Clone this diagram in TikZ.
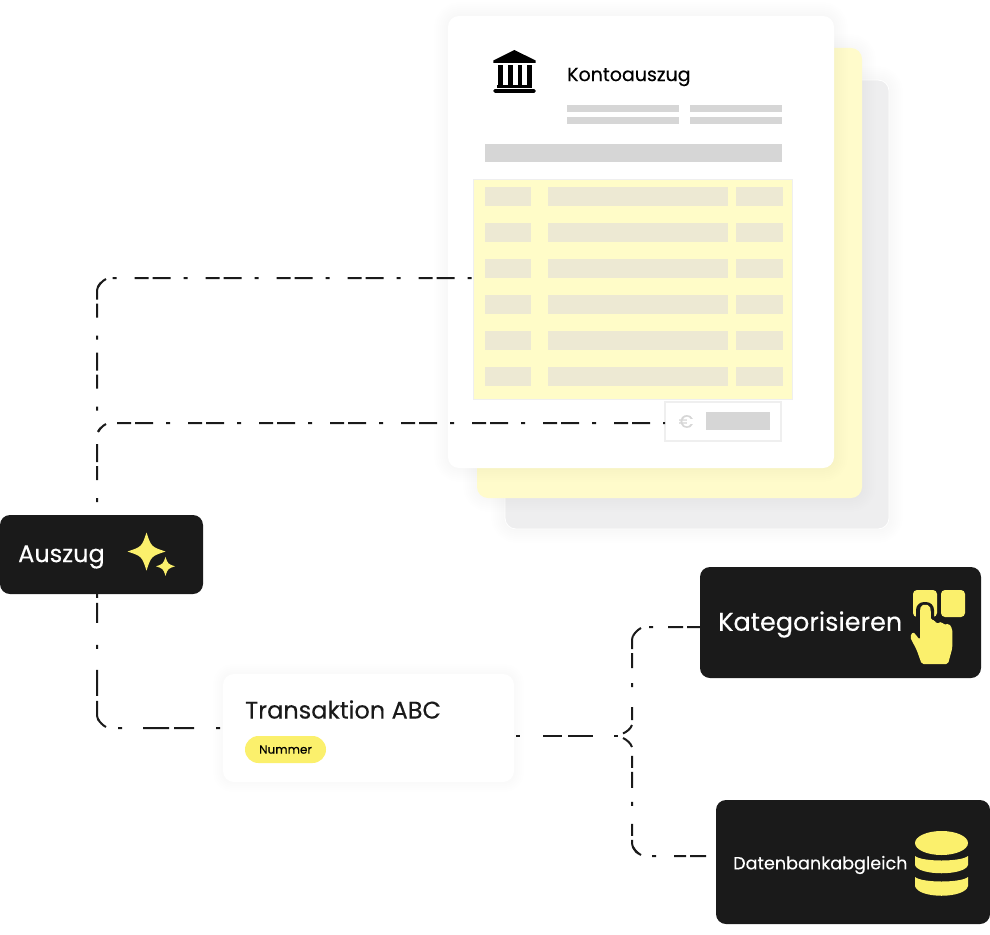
\documentclass[tikz,border=0pt]{standalone}
\usepackage{fontspec}
\setmainfont{Poppins}[FakeBold=0.25]
\usetikzlibrary{positioning}
\definecolor{darkbox}{HTML}{1A1A1A}
\definecolor{iconyellow}{HTML}{FBF06C}
\definecolor{pagegray}{HTML}{EEEEEF}
\definecolor{pageyellow}{HTML}{FFFBCB}
\definecolor{tableyellow}{HTML}{FFFCC8}
\definecolor{cellgray}{HTML}{EDE9D3}
\definecolor{bargray}{HTML}{D6D6D6}
\definecolor{hairline}{HTML}{EFEFEF}
\tikzset{
  page/.style={rounded corners=11pt, inner sep=0pt, outer sep=0pt},
  blackbox/.style={fill=darkbox, rounded corners=10pt, inner sep=0pt, outer sep=0pt},
  flowline/.style={line width=2pt, darkbox, rounded corners=14pt,
    dash pattern=on 18pt off 4pt on 14pt off 18pt on 4pt off 13pt},
  flowwide/.style={line width=2pt, darkbox, rounded corners=14pt,
    dash pattern=on 20pt off 5pt on 26pt off 21pt on 4pt off 22pt},
  cornerdash/.style={line width=2pt, darkbox},
  blacktext/.style={text=white, inner sep=0pt, anchor=west},
  greybar/.style={fill=bargray},
  cell/.style={fill=cellgray},
  sparkle/.pic={\fill[iconyellow] (0,-1) .. controls (.25,-.25) .. (1,0) .. controls (.25,.25) .. (0,1)
    .. controls (-.25,.25) .. (-1,0) .. controls (-.25,-.25) .. cycle;}
}
\newcommand{\softshadow}[4]{%
  \foreach \w in {4,8,...,28}
    \draw[black, opacity=0.004, line width=\w pt, rounded corners=12pt] (#1,#2) rectangle (#3,#4);
}
\begin{document}
\begin{tikzpicture}[x=1pt, y=-1pt]
\useasboundingbox (0,0) rectangle (990,934);
\fill[white] (0,0) rectangle (990,934);

\softshadow{505}{80}{889}{529}
\node[page, fill=pagegray, draw=white, line width=.8pt, minimum width=384pt, minimum height=449pt] (backpage) at (697,304.5) {};
\softshadow{477}{48}{862}{498}
\node[page, fill=pageyellow, minimum width=385pt, minimum height=450pt] (yellowpage) at (669.5,273) {};
\softshadow{448}{16}{834}{468}
\node[page, fill=white, minimum width=386pt, minimum height=452pt] (whitepage) at (641,242) {};

\fill (514.3,50) -- (535.7,60.5) -- (535.7,63) -- (493.3,63) -- (493.3,60.5) -- cycle;
\foreach \x in {497.8,508,517.5,526.8}
  \fill (\x,65) rectangle ++(4.8,21);
\fill (497,85) rectangle (532,87.5);
\fill[rounded corners=1.5pt] (493.3,89) rectangle (535.7,92.8);

\node[inner sep=0pt, anchor=west, font=\fontsize{19}{19}\selectfont] (title) at (567,77) {Kontoauszug};

\fill[greybar] (567,105) rectangle (679,112);
\fill[greybar] (690,105) rectangle (782,112);
\fill[greybar] (567,117) rectangle (679,124);
\fill[greybar] (690,117) rectangle (782,124);
\fill[greybar] (485,144) rectangle (782,162);

\node[fill=tableyellow, draw=hairline, line width=1.5pt, inner sep=0pt, outer sep=0pt, minimum width=319pt, minimum height=220pt] (table) at (633,289.5) {};
\foreach \y in {187,223,259,295,331,367}{
  \fill[cell] (485,\y) rectangle ++(46,19);
  \fill[cell] (548,\y) rectangle ++(180,19);
  \fill[cell] (736,\y) rectangle ++(47,19);
}

\node[draw=hairline, line width=1.2pt, fill=white, inner sep=0pt, outer sep=0pt, minimum width=116pt, minimum height=39pt] (sumbox) at (723,421.5) {};
\node[text=bargray, inner sep=0pt, font=\fontsize{18}{18}\selectfont] (euro) at (686,421.5) {€};
\fill[greybar] (706,412) rectangle (770,430);

\coordinate (spine) at (97,500);
\coordinate (spinetop) at (97,415);
\coordinate (tablein) at (table.west |- 0,278);
\coordinate (sumin) at (sumbox.west |- 0,423);
\coordinate (transin) at (222,728);
\coordinate (transout) at (514,736);
\coordinate (fork) at (622,736);
\coordinate (katin) at (700,627);
\coordinate (datin) at (716,856);

\node[blackbox, minimum width=203pt, minimum height=79pt] (auszug) at (101.5,554.5) {};

\draw[flowline, dash phase=52pt] (tablein) -| (spinetop);
\draw[flowline, dash phase=56pt] (sumin) -| (spine |- auszug.north);
\draw[flowwide, dash phase=70pt] (transin) -| (spine |- auszug.south);

\node[blacktext, font=\fontsize{24}{24}\selectfont] (auszuglabel) at (18,557) {Auszug};
\pic (sparklebig) [scale=19] at (146.5,551.5) {sparkle};
\pic (sparklesmall) [scale=9.5] at (165.5,566.3) {sparkle};

\foreach \w in {4,8,...,20}
  \draw[black, opacity=0.003, line width=\w pt, rounded corners=10pt] (223,674) rectangle (514,782);
\node[page, fill=white, minimum width=291pt, minimum height=108pt] (transaktion) at (368.5,728) {};
\node[inner sep=0pt, anchor=west, text=darkbox, font=\fontsize{24}{24}\selectfont] (translabel) at (245,709.5) {Transaktion ABC};
\node[fill=iconyellow, rounded corners=13.5pt, inner sep=0pt, minimum width=81pt, minimum height=27pt, font=\fontsize{12}{12}\selectfont] (nummer) at (285.5,749.5) {Nummer};

\draw[flowwide, dash pattern=on 19pt off 6pt on 25pt off 21pt on 4pt off 23pt, dash phase=69pt] (transout) -- (fork);
\draw[flowline, dash pattern=on 13pt off 4pt on 15pt off 15pt on 4pt off 20pt] (katin) -| (632,724);
\draw[flowline, dash pattern=on 16pt off 4pt on 12pt off 18pt on 4pt off 14pt, dash phase=58pt] (datin) -| (632,748);
\draw[cornerdash] (623,733.5) .. controls (627,731.5) and (630.5,729) .. (632,725);
\draw[cornerdash] (623,738) .. controls (627,740) and (630.5,743) .. (632,747);

\foreach \c/\s in {{97,278}/1,{97,423}/1,{632,627}/1,{97,728}/-1,{632,856}/-1}
  \draw[cornerdash, shift={(\c)}, yscale=\s] (1,9) .. controls (2.5,6) and (6,2.5) .. (9,1);

\node[blackbox, minimum width=281pt, minimum height=111pt] (kategorisieren) at (840.5,622.5) {};
\node[blacktext, font=\fontsize{25.5}{25.5}\selectfont] (katlabel) at (718,624.5) {Kategorisieren};
\fill[iconyellow, rounded corners=4pt] (913,590) rectangle (937,617);
\fill[iconyellow, rounded corners=4pt] (941,590) rectangle (965,617);
\fill[darkbox, rounded corners=8pt] (916,602) rectangle (934,632);
\fill[iconyellow, rounded corners=1.8pt] (920,640) -- (920,610) -- (921,605.5) -- (925,604.5) -- (929.5,605.5) -- (930.8,610) -- (930.8,620)
  -- (935,620) -- (936,624) -- (942,621.5) -- (943.5,625) -- (949,623.5) -- (952.3,629) -- (952.3,648)
  -- (948,664) -- (921.7,664) -- (916.7,650) -- (910,637) -- (913,631.5) -- cycle;

\node[blackbox, minimum width=274pt, minimum height=124pt] (datenbank) at (853,862) {};
\node[blacktext, font=\fontsize{17.6}{17.6}\selectfont] (datlabel) at (733,865) {Datenbankabgleich};
\fill[iconyellow] (941.5,843) ellipse[x radius=26.5, y radius=12];
\fill[iconyellow] (915,856) .. controls (922,862) and (961,862) .. (968,856) -- (968,865) .. controls (965,876) and (918,876) .. (915,865) -- cycle;
\fill[iconyellow] (915,877) .. controls (922,883) and (961,883) .. (968,877) -- (968,886) .. controls (965,899) and (918,899) .. (915,886) -- cycle;
\end{tikzpicture}
\end{document}
